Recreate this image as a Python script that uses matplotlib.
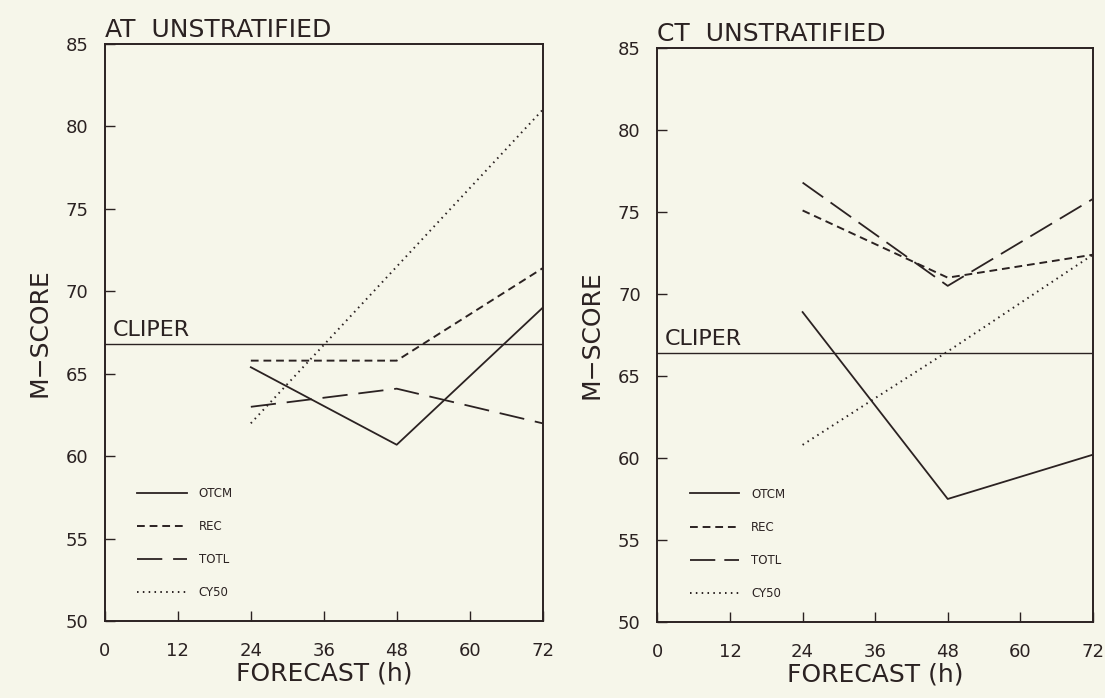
import matplotlib.pyplot as plt

# forecast hours
hours = [24, 48, 72]

# AT unstratified
at_otcm = [65.4, 60.7, 69.0]
at_rec = [65.8, 65.8, 71.4]
at_totl = [63.0, 64.1, 62.0]
at_cy50 = [62.0, 71.5, 81.0]
at_cliper = 66.8

# CT unstratified
ct_otcm = [68.9, 57.5, 60.2]
ct_rec = [75.1, 71.0, 72.4]
ct_totl = [76.8, 70.5, 75.8]
ct_cy50 = [60.8, 66.5, 72.4]
ct_cliper = 66.4

series_names = ['OTCM', 'REC', 'TOTL', 'CY50']
x_ticks = [0, 12, 24, 36, 48, 60, 72]
y_ticks = [50, 55, 60, 65, 70, 75, 80, 85]

ink = '#2b2222'
paper = '#f6f6ea'
plt.rcParams['font.family'] = 'DejaVu Sans'

fig = plt.figure(figsize=(11.05, 6.98), dpi=100, facecolor=paper)
ax1 = fig.add_axes([0.095, 0.110, 0.396, 0.827])
ax2 = fig.add_axes([0.595, 0.109, 0.394, 0.822])


def draw_panel(ax, title, otcm, rec, totl, cy50, cliper, totl_dash):
    ax.set_facecolor(paper)
    ax.axhline(cliper, color=ink, lw=1.0)
    ax.text(1.2, cliper + 0.25, 'CLIPER', color=ink, fontsize=16, va='bottom')
    ax.plot(hours, otcm, color=ink, lw=1.3, label=series_names[0])
    ax.plot(hours, rec, color=ink, lw=1.4, dashes=(4, 2.5), label=series_names[1])
    ax.plot(hours, totl, color=ink, lw=1.3, dashes=totl_dash, label=series_names[2])
    ax.plot(hours, cy50, color=ink, lw=1.4, dashes=(0.8, 2.2), label=series_names[3])
    ax.set_xlim(0, 72)
    ax.set_ylim(50, 85)
    ax.set_xticks(x_ticks)
    ax.set_yticks(y_ticks)
    ax.tick_params(direction='in', length=7, width=1.0, colors=ink, labelsize=13)
    ax.tick_params(axis='x', pad=15)
    ax.tick_params(axis='y', pad=12)
    for s in ax.spines.values():
        s.set_color(ink)
        s.set_linewidth(1.4)
    ax.set_xlabel('FORECAST (h)', fontsize=18, color=ink, labelpad=1)
    ax.set_ylabel('M\u2212SCORE', fontsize=18, color=ink, labelpad=10)
    ax.set_title(title, loc='left', fontsize=18, color=ink, pad=5)
    leg = ax.legend(loc='lower left', bbox_to_anchor=(0.05, 0.02), frameon=False,
                    handlelength=4.2, labelspacing=1.7, fontsize=8.5,
                    handletextpad=1.0)
    for t in leg.get_texts():
        t.set_color(ink)


draw_panel(ax1, 'AT  UNSTRATIFIED', at_otcm, at_rec, at_totl, at_cy50,
           at_cliper, (14, 6))
draw_panel(ax2, 'CT  UNSTRATIFIED', ct_otcm, ct_rec, ct_totl, ct_cy50,
           ct_cliper, (14, 5))

fig.savefig('out.png', dpi=100, facecolor=paper)
